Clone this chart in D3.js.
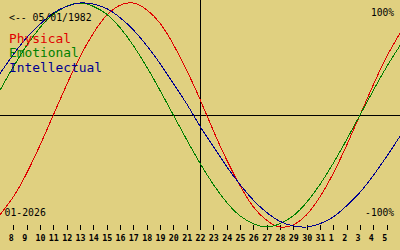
<!DOCTYPE html>
<html lang="en">

<head>
    <meta charset="utf-8">
    <title>Biorhythm</title>
    <script type="text/javascript" src="https://cdn.jsdelivr.net/npm/d3@7"></script>
    <style>
        body {
            margin: 0;
            background-color: #e0d080;
        }

        svg {
            display: block;
        }
    </style>
</head>

<body>
    <script type="text/javascript">
        //Width and height
        var w = 400;
        var h = 250;

        // days shown, 7 Jan .. 6 Feb 2026
        var days = [7, 8, 9, 10, 11, 12, 13, 14, 15, 16, 17, 18, 19, 20, 21, 22, 23, 24, 25, 26, 27, 28, 29, 30, 31, 1, 2, 3, 4, 5, 6];
        var today = 22;
        var birthLabel = "<-- 05/01/1982";
        var monthLabel = "01-2026";

        // values, one per day (-1 .. 1)
        var physical = [-0.89, -0.73, -0.52, -0.27, 0, 0.27, 0.52, 0.73, 0.89, 0.98, 1.00, 0.94, 0.82, 0.63, 0.40, 0.14,
            -0.14, -0.40, -0.63, -0.82, -0.94, -1.00, -0.98, -0.89, -0.73, -0.52, -0.27, 0, 0.27, 0.52, 0.73];
        var emotional = [0.22, 0.43, 0.62, 0.78, 0.90, 0.97, 1.00, 0.97, 0.90, 0.78, 0.62, 0.43, 0.22, 0, -0.22, -0.43,
            -0.62, -0.78, -0.90, -0.97, -1.00, -0.97, -0.90, -0.78, -0.62, -0.43, -0.22, 0, 0.22, 0.43, 0.62];
        var intellectual = [0.37, 0.54, 0.69, 0.81, 0.91, 0.97, 1.00, 0.99, 0.95, 0.87, 0.76, 0.62, 0.46, 0.28, 0.10, -0.10,
            -0.28, -0.46, -0.62, -0.76, -0.87, -0.95, -0.99, -1.00, -0.97, -0.91, -0.81, -0.69, -0.54, -0.37, -0.19];

        var series = [
            { name: "Physical", values: physical, color: "#e00000" },
            { name: "Emotional", values: emotional, color: "#008000" },
            { name: "Intellectual", values: intellectual, color: "#000090" }
        ];

        var mono = "'DejaVu Sans Mono', 'Liberation Mono', monospace";

        // Scales ------------------------------------------------
        var xScale = d3.scaleLinear()
            .domain([0, days.length - 1])
            .range([0, w]);

        var yScale = d3.scaleLinear()
            .domain([-1, 1])
            .range([227, 3]);

        var svg = d3.select("body")
            .append("svg")
            .attr("width", w)
            .attr("height", h);

        svg.append("rect")
            .attr("width", w)
            .attr("height", h)
            .attr("fill", "#e0d080");

        // zero line
        svg.append("line")
            .attr("x1", 0)
            .attr("x2", w)
            .attr("y1", Math.round(yScale(0)) + 0.5)
            .attr("y2", Math.round(yScale(0)) + 0.5)
            .attr("stroke", "black")
            .attr("shape-rendering", "crispEdges");

        // today line
        var ti = days.indexOf(today);
        svg.append("line")
            .attr("x1", Math.round(xScale(ti)) + 0.5)
            .attr("x2", Math.round(xScale(ti)) + 0.5)
            .attr("y1", 0)
            .attr("y2", 230)
            .attr("stroke", "black")
            .attr("shape-rendering", "crispEdges");

        // x axis ticks, first and last day left out
        var tickIdx = d3.range(1, days.length - 1);
        var xAxis = d3.axisBottom(xScale)
            .tickValues(tickIdx)
            .tickSize(5)
            .tickFormat(function(i) {
                return days[i];
            });

        var gx = svg.append("g")
            .attr("transform", "translate(0,225)")
            .call(xAxis);
        gx.select(".domain").remove();
        gx.selectAll(".tick line")
            .attr("shape-rendering", "crispEdges")
            .attr("stroke", function(i) {
                return i === ti ? "none" : "black";
            });
        gx.selectAll(".tick text")
            .attr("text-anchor", "start")
            .attr("x", -5)
            .attr("y", 16)
            .attr("dy", null)
            .attr("font-family", mono)
            .attr("font-size", "8.3px")
            .attr("font-weight", "bold")
            .attr("fill", "black");

        // curves
        var line = d3.line()
            .x(function(d, i) {
                return xScale(i);
            })
            .y(function(d) {
                return yScale(d);
            })
            .curve(d3.curveNatural);

        svg.selectAll("path.curve")
            .data(series)
            .enter()
            .append("path")
            .attr("class", "curve")
            .attr("d", function(d) {
                return line(d.values);
            })
            .attr("fill", "none")
            .attr("stroke", function(d) {
                return d.color;
            })
            .attr("stroke-width", 1)
            .attr("shape-rendering", "crispEdges");

        // labels
        svg.append("text")
            .text(birthLabel)
            .attr("x", 9)
            .attr("y", 20.5)
            .attr("font-family", mono)
            .attr("font-size", "9.8px")
            .attr("fill", "black");

        svg.selectAll("text.legend")
            .data(series)
            .enter()
            .append("text")
            .attr("class", "legend")
            .text(function(d) {
                return d.name;
            })
            .attr("x", 9)
            .attr("y", function(d, i) {
                return 42.5 + i * 14.5;
            })
            .attr("font-family", mono)
            .attr("font-size", "12.9px")
            .attr("fill", function(d) {
                return d.color;
            });

        svg.append("text")
            .text("100%")
            .attr("x", 394)
            .attr("y", 16)
            .attr("text-anchor", "end")
            .attr("font-family", mono)
            .attr("font-size", "9.6px")
            .attr("fill", "black");

        svg.append("text")
            .text("-100%")
            .attr("x", 394)
            .attr("y", 216)
            .attr("text-anchor", "end")
            .attr("font-family", mono)
            .attr("font-size", "9.6px")
            .attr("fill", "black");

        svg.append("text")
            .text(monthLabel)
            .attr("x", 4.5)
            .attr("y", 216)
            .attr("font-family", mono)
            .attr("font-size", "9.8px")
            .attr("fill", "black");
    </script>

</body>

</html>
